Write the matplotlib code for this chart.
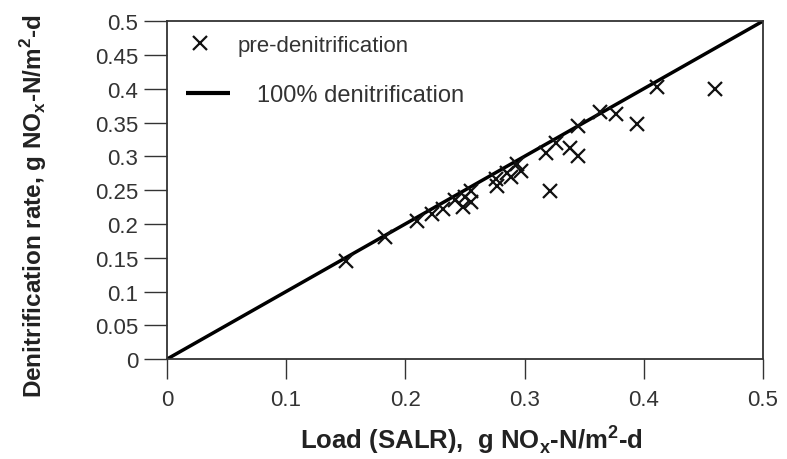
import matplotlib
matplotlib.use("Agg")
import matplotlib.pyplot as plt

plt.rcParams['font.family'] = ['Liberation Sans', 'DejaVu Sans']
plt.rcParams['mathtext.fontset'] = 'custom'
plt.rcParams['mathtext.rm'] = 'Liberation Sans'
plt.rcParams['mathtext.bf'] = 'Liberation Sans:bold'

load = [0.150, 0.183, 0.210, 0.222, 0.232, 0.242, 0.250, 0.255, 0.248, 0.255,
        0.277, 0.276, 0.285, 0.289, 0.294, 0.297, 0.318, 0.326, 0.338, 0.345,
        0.321, 0.345, 0.363, 0.377, 0.394, 0.411, 0.460]
rate = [0.145, 0.180, 0.205, 0.215, 0.222, 0.235, 0.240, 0.248, 0.225, 0.232,
        0.256, 0.266, 0.276, 0.270, 0.288, 0.279, 0.305, 0.320, 0.312, 0.300,
        0.249, 0.345, 0.365, 0.362, 0.348, 0.402, 0.400]
line_x = [0, 0.5]
line_y = [0, 0.5]
xticks = [0, 0.1, 0.2, 0.3, 0.4, 0.5]
yticks = [0, 0.05, 0.1, 0.15, 0.2, 0.25, 0.3, 0.35, 0.4, 0.45, 0.5]

fig = plt.figure(figsize=(7.87, 4.6), dpi=100)
ax = fig.add_axes([0.212, 0.217, 0.7575, 0.735])

ln, = ax.plot(line_x, line_y, color='black', lw=2.5, label='100% denitrification',
              zorder=2, solid_capstyle='butt')
pts, = ax.plot(load, rate, linestyle='none', marker='x', ms=9.5, mew=1.6,
               color='#111111', label='pre-denitrification', zorder=3)

ax.set_xlim(0, 0.5)
ax.set_ylim(0, 0.5)
ax.set_xticks(xticks)
ax.set_xticklabels([f'{v:g}' for v in xticks])
ax.set_yticks(yticks)
ax.set_yticklabels([f'{v:g}' for v in yticks])
ax.tick_params(axis='both', direction='out', labelsize=16, labelcolor='#333333',
               color='#333333', width=1.0)
ax.tick_params(axis='y', length=16.5, pad=4)
ax.tick_params(axis='x', length=14.5, pad=7)
for s in ax.spines.values():
    s.set_linewidth(1.3)
    s.set_color('#333333')

ax.set_xlabel(r'Load (SALR),  g NO$_\mathbf{x}$-N/m$^\mathbf{2}$-d',
              fontsize=18.5, fontweight='bold', color='#222222')
ax.set_ylabel(r'Denitrification rate, g NO$_\mathbf{x}$-N/m$^\mathbf{2}$-d',
              fontsize=17.5, fontweight='bold', color='#222222')
ax.xaxis.set_label_coords(0.51, -0.185)
ax.yaxis.set_label_coords(-0.198, 0.455)

leg1 = ax.legend([pts], [pts.get_label()], loc='upper left', frameon=False,
                 bbox_to_anchor=(0.0369, 0.9586), borderaxespad=0, borderpad=0,
                 fontsize=16, labelcolor='#333333', handlelength=1.0,
                 handletextpad=1.17)
ax.add_artist(leg1)
leg2 = ax.legend([ln], [ln.get_label()], loc='upper left', frameon=False,
                 bbox_to_anchor=(0.0319, 0.8136), borderaxespad=0, borderpad=0,
                 fontsize=17, labelcolor='#333333', handlelength=1.86,
                 handletextpad=1.14)
for l in leg2.get_lines():
    l.set_linewidth(3)

fig.savefig('out.png', dpi=100)
